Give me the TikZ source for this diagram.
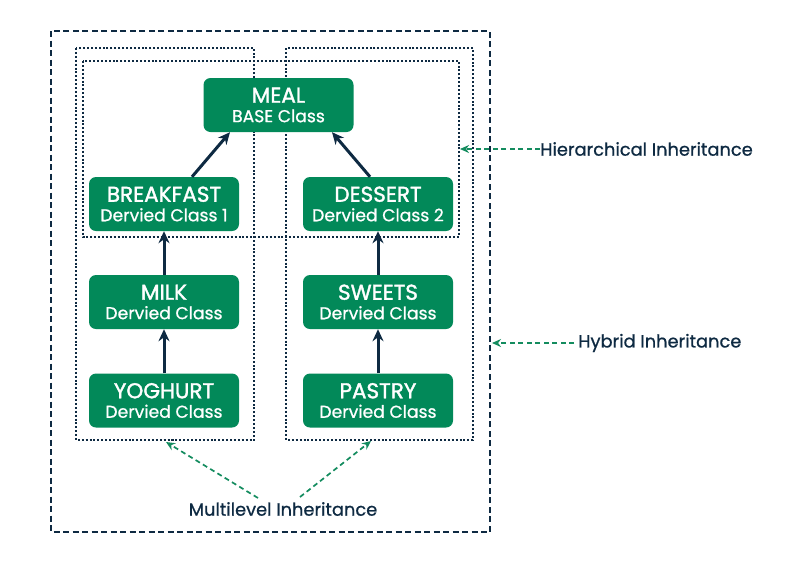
\documentclass[tikz,border=0pt]{standalone}
\usepackage{fontspec}
\setmainfont{Poppins}
\newfontfamily\semib[FakeBold=1.6]{Poppins}
\newfontfamily\medf[FakeBold=0.8]{Poppins}
\usetikzlibrary{arrows.meta}
\definecolor{boxgreen}{RGB}{2,137,89}
\definecolor{navy}{RGB}{14,42,66}
\definecolor{lgreen}{RGB}{20,140,95}
\tikzset{
  cls/.style={draw=none, fill=boxgreen, rounded corners=7pt, minimum width=150pt, minimum height=54pt, text=white, align=center, inner sep=0pt, font=\medf\fontsize{17.2}{19.5}\selectfont},
  inh/.style={navy, line width=3pt, -{Stealth[length=12pt,width=11pt]}},
  dotbox/.style={navy, line width=2.1pt, dash pattern=on 2pt off 1.9pt},
  outbox/.style={navy, line width=2pt, dash pattern=on 6pt off 3.5pt},
  lbl/.style={navy, font=\medf\fontsize{17.8}{20}\selectfont, inner sep=0pt},
  note/.style={lgreen, line width=1.7pt, dash pattern=on 5pt off 3.5pt, -{Stealth[length=9pt,width=8pt]}},
}
\newcommand{\ct}[2]{{\semib\fontsize{21.5}{21.5}\selectfont #1}\\#2}
\begin{document}
\begin{tikzpicture}[x=1pt,y=-1pt]
\useasboundingbox (0,0) rectangle (800,563);
% frames
\draw[outbox] (51,31) rectangle (490,532);
\draw[dotbox] (76,48) rectangle (254,440);
\draw[dotbox] (286,48) rectangle (473,440);
\draw[dotbox] (83,61) rectangle (459,237);
% classes
\node[cls] (meal) at (278.5,105) {\ct{MEAL}{BASE Class}};
\node[cls] (breakfast) at (164,204) {\ct{BREAKFAST}{Dervied Class 1}};
\node[cls] (dessert) at (378,204) {\ct{DESSERT}{Dervied Class 2}};
\node[cls] (milk) at (164,302) {\ct{MILK}{Dervied Class}};
\node[cls] (sweets) at (378,302) {\ct{SWEETS}{Dervied Class}};
\node[cls] (yoghurt) at (164,400.5) {\ct{YOGHURT}{Dervied Class}};
\node[cls] (pastry) at (378,400.5) {\ct{PASTRY}{Dervied Class}};
% inheritance arrows
\draw[inh] (breakfast.north) ++(28,0) coordinate (bt) -- (meal.south west -| 230,0) ;
\draw[inh] (dessert.north) ++(-8,0) coordinate (dt) -- (meal.south east -| 332,0);
\draw[inh] (milk) -- (breakfast);
\draw[inh] (yoghurt) -- (milk);
\draw[inh] (sweets) -- (dessert);
\draw[inh] (pastry) -- (sweets);
% labels
\node[lbl, anchor=west] (hier) at (540,149) {Hierarchical Inheritance};
\node[lbl, anchor=west] (hyb) at (578,343) {Hybrid Inheritance};
\node[lbl] (multi) at (283,509) {Multilevel Inheritance};
\coordinate (hierend) at (460,149);
\coordinate (hybend) at (492,343);
\coordinate (mlend) at (166,442);
\coordinate (mrend) at (371,441);
\coordinate (mlstart) at (258,498);
\coordinate (mrstart) at (300,497);
\draw[note] (hier.west) -- (hierend);
\draw[note] ([xshift=-4pt]hyb.west) -- (hybend);
\draw[note] (mlstart) -- (mlend);
\draw[note] (mrstart) -- (mrend);
\end{tikzpicture}
\end{document}
